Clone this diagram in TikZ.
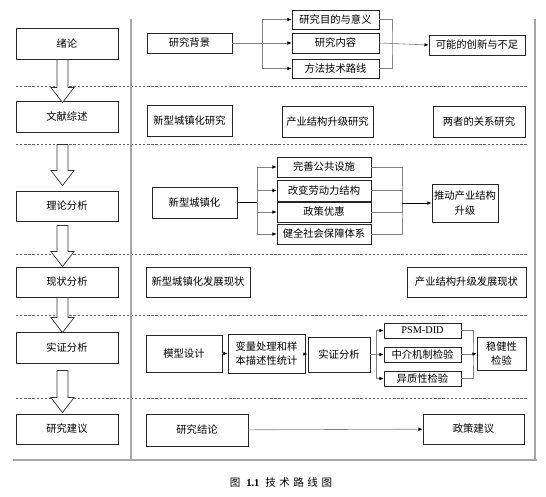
\documentclass[tikz,border=0pt]{standalone}
\usepackage{fontspec}
\setmainfont{Noto Sans CJK SC}
\newfontfamily\latinserif{Liberation Serif}
\usetikzlibrary{arrows.meta,calc}

\begin{document}
\begin{tikzpicture}
[x=0.03cm,y=-0.03cm,
  nodeDecorate/.style 2 args={shape=rectangle,draw=black!85,line width=0.7pt,
    minimum width=#1*0.03cm,minimum height=#2*0.03cm,inner sep=0pt,
    align=center,font=\fontsize{8.8}{12.5}\selectfont},%
  lineDecorate/.style={draw=black!50,line width=0.5pt},%
  arrowDecorate/.style={lineDecorate,-{Latex[length=3.5pt,width=3pt,color=black]}},%
  bigArrow/.style={draw=black!80,line width=0.6pt,fill=white},%
  sepLine/.style={draw=black!60,line width=0.5pt,dash pattern=on 2pt off 1.5pt},%
  frameLine/.style={draw=black!35,line width=1.8pt}]
\useasboundingbox (0,0) rectangle (546,497);

%% section separators
\foreach \y in {86,144,254,315,398}
{
  \draw[sepLine] (16,\y) -- (527,\y);
}
\draw[frameLine] (131,19) -- (131,460);
\draw[frameLine] (535,19) -- (535,460);
\draw[frameLine] (13,460) -- (537,460);

%% nodes: name/x/y/width/height/text
\foreach \nodename/\x/\y/\w/\h/\txt in {
  xulun/67/43.5/102/31/绪论, wenxian/67/116.5/102/31/文献综述,
  lilun/67/206/102/30/理论分析, xianzhuang/67/282/102/30/现状分析,
  shizheng/67/347.5/102/31/实证分析, jianyi/67/429/102/30/研究建议,
  beijing/189.5/43/85/20/研究背景, mudi/335.5/19.5/87/19/研究目的与意义,
  neirong/335.5/43/87/20/研究内容, fangfa/335.5/68.5/87/19/方法技术路线,
  chuangxin/477/45/96/20/可能的创新与不足,
  czhyj/189.5/120.5/85/31/新型城镇化研究, cyyj/327.5/121.5/91/31/产业结构升级研究,
  guanxi/479/121.5/92/31/两者的关系研究,
  czh/194.5/202.5/85/31/新型城镇化, gonggong/324/167/94/20/完善公共设施,
  laodong/324/190.5/94/21/改变劳动力结构, youhui/324/212/94/20/政策优惠,
  baozhang/324/234/94/20/健全社会保障体系, tuidong/465/203/66/38/{推动产业结构\\升级},
  czhxz/198/282/104/30/新型城镇化发展现状, cyxz/466.5/282/119/30/产业结构升级发展现状,
  moxing/184/353.5/76/37/模型设计, bianliang/266.5/353.5/77/39/{变量处理和样\\本描述性统计},
  shizhengR/339/354.5/62/35/实证分析, psm/422.5/330.5/77/15/{\latinserif PSM-DID},
  zhongjie/422.5/354.5/77/15/中介机制检验, yizhi/422.5/378.5/77/15/异质性检验,
  wenjian/501.5/353.5/49/33/{稳健性\\检验},
  jielun/197/430/102/32/研究结论, zhengce/473.5/429/101/30/政策建议}
{
  \node (\nodename) at (\x,\y) [nodeDecorate={\w}{\h}] {\txt};
}

%% hollow arrows of the left column
\foreach \a/\b/\s/\d in {
  xulun/wenxian/0/2, wenxian/lilun/12/-5, lilun/xianzhuang/4/0,
  xianzhuang/shizheng/0/1, shizheng/jianyi/7/-1}
{
  \coordinate (S) at ($(\a.south)+(-4.5,\s)$);
  \coordinate (T) at ($(\b.north)+(-4.5,\d)$);
  \coordinate (H) at ($(T)+(0,-15)$);
  \draw[bigArrow] ($(S)+(-5.5,0)$) -- ($(H)+(-5.5,0)$) -- ($(H)+(-11.5,0)$) -- (T)
    -- ($(H)+(11.5,0)$) -- ($(H)+(5.5,0)$) -- ($(S)+(5.5,0)$) -- cycle;
}

%% edges or lines
\coordinate (b1) at (262,43);
\coordinate (b2) at (392,43);
\draw[lineDecorate] (beijing.east) -- (b1);
\foreach \endnode in {mudi,neirong,fangfa}
{
  \draw[arrowDecorate] (b1) |- (\endnode.west);
}
\draw[lineDecorate] (mudi.east) -| (b2) |- (fangfa.east);
\draw[arrowDecorate] (neirong.east) -- (chuangxin.west);

\coordinate (b3) at (257,202.5);
\coordinate (b4) at (402,203);
\draw[line width=0.6pt] (czh.east) -- (b3);
\foreach \endnode in {gonggong,laodong,youhui,baozhang}
{
  \draw[arrowDecorate] (b3) |- (\endnode.west);
}
\draw[lineDecorate] (gonggong.east) -| (b4) |- (baozhang.east);
\draw[lineDecorate] (laodong.east) -| (b4);
\draw[lineDecorate] (youhui.east) -| (b4);
\draw[arrowDecorate,draw=black,line width=0.6pt] (b4) -- (tuidong.west);

\coordinate (b5) at (376,354.5);
\coordinate (b6) at (473,354);
\draw[arrowDecorate] (moxing) -- (bianliang);
\draw[arrowDecorate] (bianliang) -- (shizhengR);
\draw[lineDecorate] (shizhengR.east) -- (b5);
\foreach \endnode in {psm,zhongjie,yizhi}
{
  \draw[arrowDecorate] (b5) |- (\endnode.west);
}
\draw[lineDecorate] (psm.east) -| (b6) |- (yizhi.east);
\draw[lineDecorate] (zhongjie.east) -| (b6);
\draw[arrowDecorate] (b6) -- (wenjian.west);

\draw[arrowDecorate] (jielun) -- (zhengce);

%% caption
\node (caption) at (281,482) [font=\fontsize{9}{11}\selectfont]
  {图\hspace{5pt}{\latinserif\bfseries 1.1}\hspace{5pt}技\hspace{3pt}术\hspace{3pt}路\hspace{3pt}线\hspace{3pt}图};
\end{tikzpicture}
\end{document}
